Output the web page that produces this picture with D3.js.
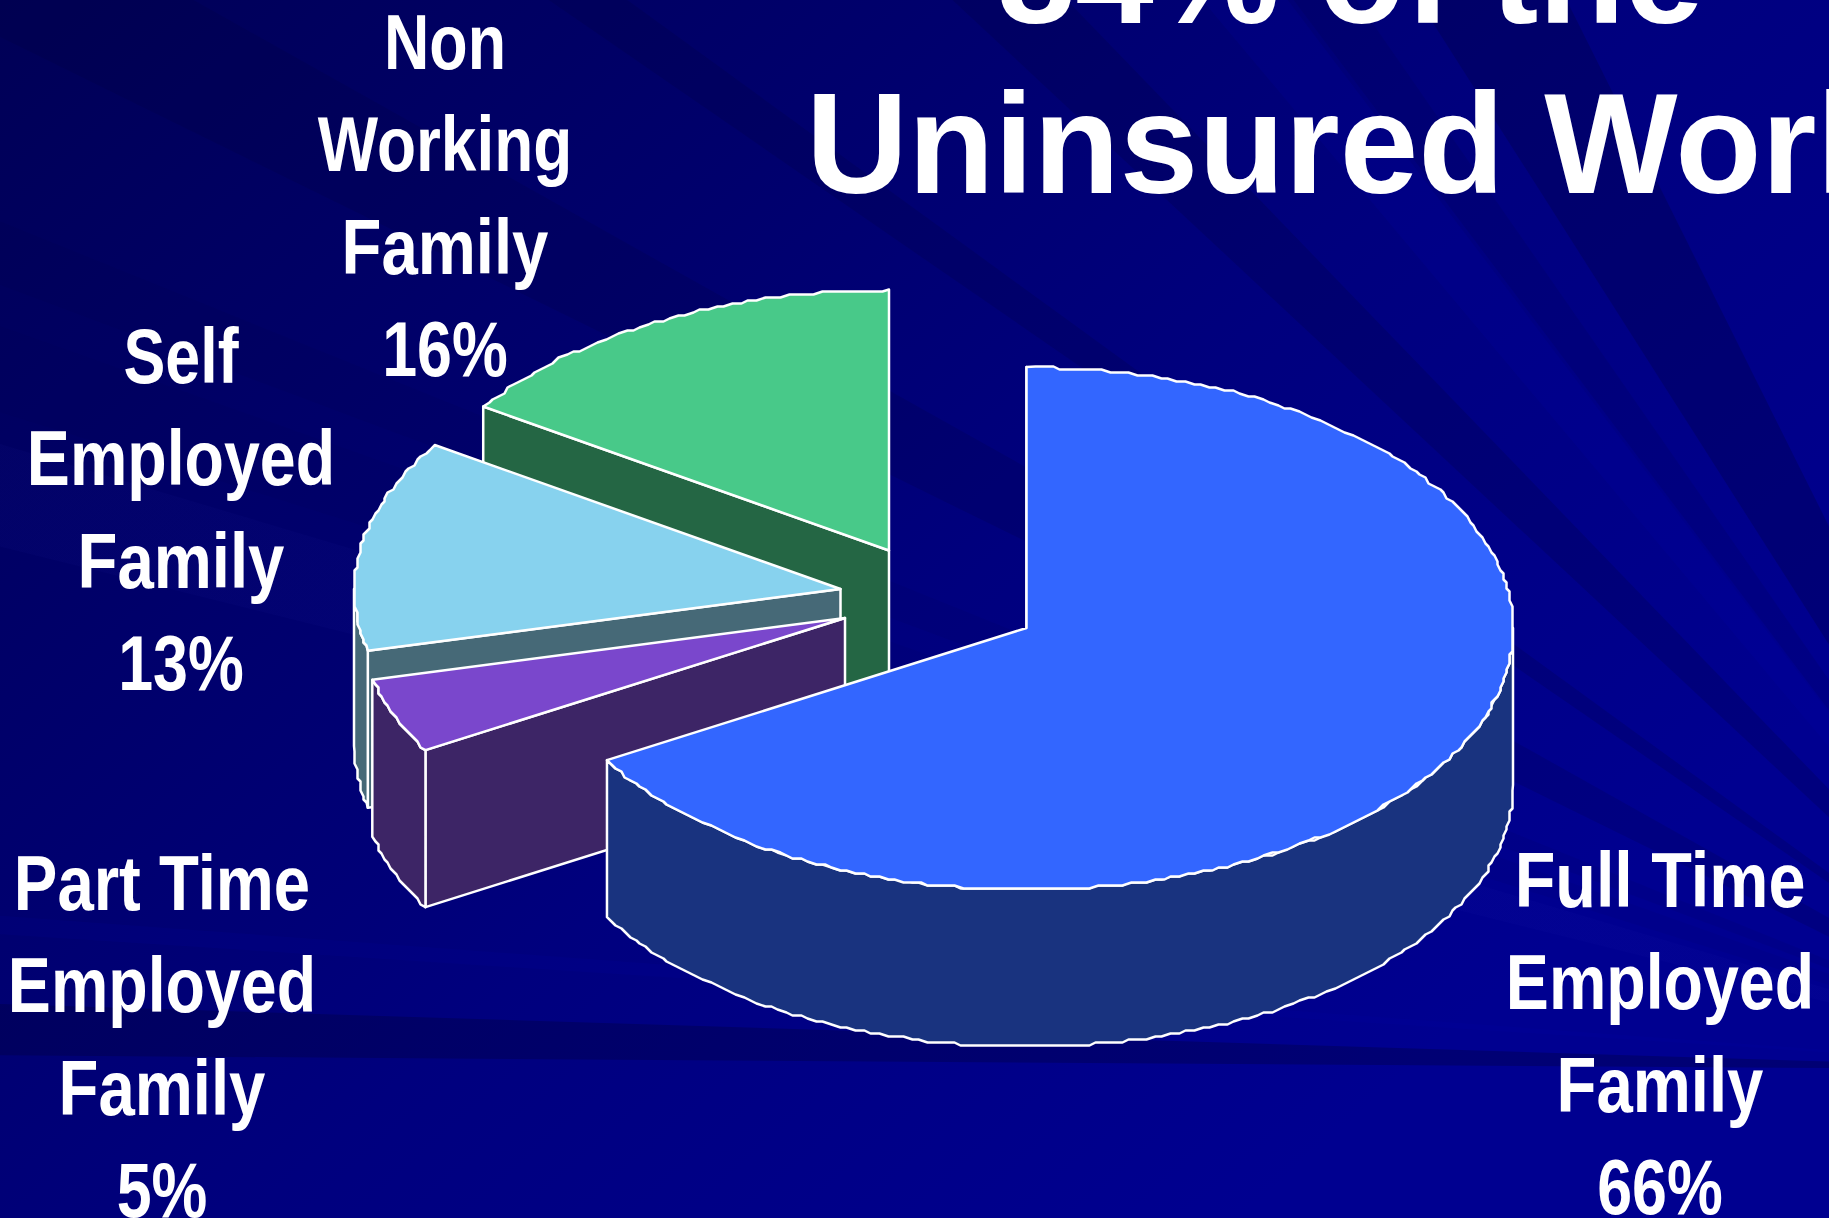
<!DOCTYPE html>
<html>
<head>
<meta charset="utf-8">
<style>
html,body{margin:0;padding:0;background:#000080;overflow:hidden}
svg{display:block}
text{font-family:"Liberation Sans",Arial,sans-serif;font-weight:700;fill:#fff}
</style>
<script src="https://cdnjs.cloudflare.com/ajax/libs/d3/7.8.5/d3.min.js"></script>
</head>
<body>
<svg id="chart" width="1829" height="1218"></svg>
<script>
// ---- data ----
const categories = ["Full Time Employed Family","Part Time Employed Family","Self Employed Family","Non Working Family"];
const shares = [66.55, 4.65, 13.1, 15.7];       // slice sizes as drawn in the picture
const percentLabels = ["66%","5%","13%","16%"]; // as printed on the slide
const labelLines = [["Full Time","Employed","Family"],["Part Time","Employed","Family"],["Self","Employed","Family"],["Non","Working","Family"]];
const titleLine1 = "84% of the";
const titleWords = ["Uninsured","Workers"];

// ---- style & layout ----
const W=1829,H=1218,RX=486.5,RY=261,DEPTH=157;
const topColors=["#3366FF","#7A47CC","#87D2EE","#48C989"];
const wallColors=["#19337F","#3D2566","#466977","#246644"];
const apex=[[1026.5,628],[845,618],[840.5,589],[889,550.5]];
const labelAnchor=[[1660,907],[162,910],[181,383],[445,69]];
const drawOrder=[3,2,1,0];
const lineWidth={"Employed":.838,"Family":.848,"Part Time":.848,"Full Time":.864,"Working":.83};

const svg=d3.select("#chart");
const defs=svg.append("defs");
const bg=defs.append("linearGradient").attr("id","bg").attr("gradientUnits","userSpaceOnUse")
  .attr("x1",0).attr("y1",0).attr("x2",1150).attr("y2",1300);
[[0,"#000056"],[0.35,"#00006C"],[0.62,"#00007E"],[1,"#000090"]].forEach(s=>bg.append("stop").attr("offset",s[0]).attr("stop-color",s[1]));
svg.append("rect").attr("width",W).attr("height",H).attr("fill","url(#bg)");

// background: fan of faint rays out of one point beyond the lower-right corner
const FOCUS=[2100,1070];
const glow=defs.append("radialGradient").attr("id","glow").attr("gradientUnits","userSpaceOnUse")
  .attr("cx",FOCUS[0]).attr("cy",FOCUS[1]).attr("r",2300);
[[0,.6],[.2,.45],[.3,.12],[.6,.06],[1,.05]].forEach(s=>glow.append("stop").attr("offset",s[0]).attr("stop-color","#3030C0").attr("stop-opacity",s[1]));
const fade=defs.append("radialGradient").attr("id","fadeDark").attr("gradientUnits","userSpaceOnUse")
  .attr("cx",FOCUS[0]).attr("cy",FOCUS[1]).attr("r",2200);
[[0,.05],[.3,.1],[.6,.22],[1,.32]].forEach(s=>fade.append("stop").attr("offset",s[0]).attr("stop-color","#000038").attr("stop-opacity",s[1]));
const DARK="#000038", LIGHT="#0000B0";
const rays=[
 [.4,1.8,"url(#fadeDark)",1],[3.7,4.2,LIGHT,.1],
 [14,16.6,"url(#glow)",1],
 [17.4,19.5,DARK,.05],[20.5,22,DARK,.07],[26.2,29.3,DARK,.16],
 [34.6,36,DARK,.18],[43,46,DARK,.2],
 [50,52.8,LIGHT,.14],[53,55.2,DARK,.12],[57.5,63.5,DARK,.26]
];
const rad=d3.scaleLinear().domain([0,90]).range([-Math.PI/2,0]);
const wedge=d3.arc().innerRadius(0).outerRadius(3000).startAngle(d=>rad(d[0])).endAngle(d=>rad(d[1]));
svg.append("g").attr("transform",`translate(${FOCUS})`).selectAll("path").data(rays).join("path")
  .attr("d",wedge).attr("fill",d=>d[2]).attr("opacity",d=>d[3]);

// pie layout
const pie=d3.pie().sort(null).value(d=>d).startAngle(0).endAngle(2*Math.PI);
const arcs=pie(shares);

const xr=d3.scaleLinear().domain([-1,1]).range([-RX,RX]);
const yr=d3.scaleLinear().domain([-1,1]).range([-RY,RY]);
const snap=v=>Math.round(v/3)*3+.5;
const line=d3.line();
// rim is snapped to a coarse grid, like the source's low-resolution polygon
function rim(i,a0,a1){
  const n=Math.max(2,Math.ceil(Math.abs(a1-a0)/(Math.PI/180)));
  return d3.range(n+1).map(k=>{
    const t=a0+(a1-a0)*k/n, x=apex[i][0]+xr(Math.sin(t)), y=apex[i][1]-yr(Math.cos(t));
    return (k===0||k===n)?[x,y]:[snap(x),snap(y)];
  });
}
const down=p=>[p[0],p[1]+DEPTH];

const g=svg.append("g").attr("stroke","#fff").attr("stroke-width",2.5).attr("stroke-linejoin","round");
drawOrder.forEach(i=>{
  const a=arcs[i], A=apex[i];
  const edge=[A[0]+xr(Math.sin(a.startAngle)),A[1]-yr(Math.cos(a.startAngle))];
  g.append("path").attr("class","wall").attr("fill",wallColors[i])
    .attr("d",line([A,edge,down(edge),down(A)])+"Z");
  const f0=Math.max(a.startAngle,Math.PI/2), f1=Math.min(a.endAngle,3*Math.PI/2);
  if(f1>f0){
    const r=rim(i,f0,f1);
    g.append("path").attr("class","wall").attr("fill",wallColors[i])
      .attr("d",line(r.concat(r.slice().reverse().map(down)))+"Z");
  }
  g.append("path").attr("class","slice").attr("fill",topColors[i])
    .attr("d",line([A].concat(rim(i,a.startAngle,a.endAngle)))+"Z");
});

// labels
const PITCH=102.3, LFS=77;
const lab=svg.append("g").attr("font-size",LFS);
categories.forEach((c,i)=>{
  const lines=labelLines[i].concat([percentLabels[i]]);
  lab.append("g").selectAll("text").data(lines).join("text")
    .attr("text-anchor","middle")
    .attr("transform",(d,k)=>`translate(${labelAnchor[i][0]},${labelAnchor[i][1]+k*PITCH}) scale(${lineWidth[d]||.815},1)`)
    .text(d=>d);
});

// title (runs off the slide in the source)
const tt=svg.append("g").attr("font-size",142);
tt.append("text").attr("transform","translate(1350,23) scale(0.995,1)").attr("text-anchor","middle").text(titleLine1);
const t2=tt.append("text").attr("transform","translate(806,193) scale(0.995,1)");
t2.append("tspan").text(titleWords[0]);
t2.append("tspan").attr("dx",40).text(titleWords[1]);
</script>
</body>
</html>
